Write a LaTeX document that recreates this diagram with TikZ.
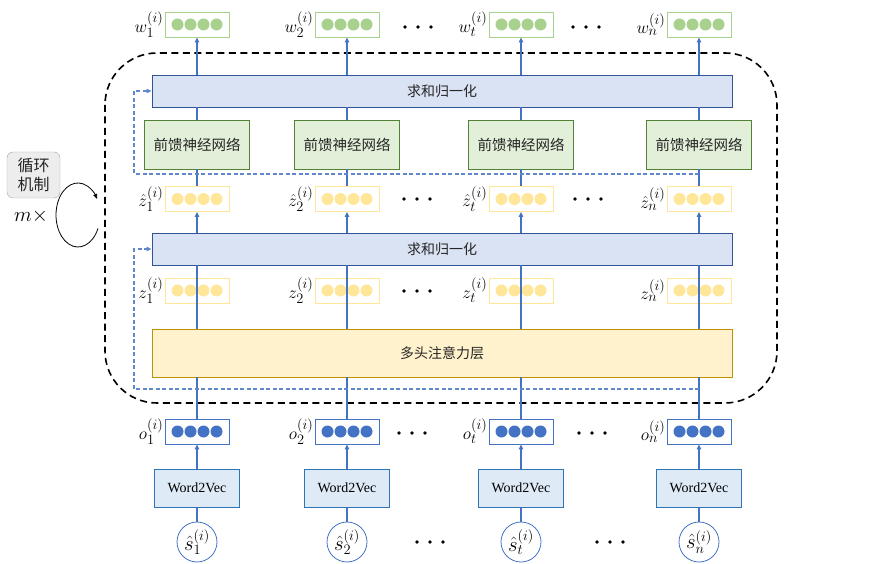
\documentclass[tikz,border=0pt]{standalone}
\usepackage{fontspec}
\setmainfont{Liberation Serif}
\newfontfamily\cjk{Noto Sans CJK SC}
\usetikzlibrary{arrows.meta,calc}
\definecolor{lineblue}{HTML}{4472C4}
\definecolor{sumfill}{HTML}{DAE3F3}
\definecolor{sumdraw}{HTML}{2F5597}
\definecolor{ffnfill}{HTML}{E2F0D9}
\definecolor{ffndraw}{HTML}{548235}
\definecolor{mhafill}{HTML}{FFF2CC}
\definecolor{mhadraw}{HTML}{BF9000}
\definecolor{wvfill}{HTML}{DEEBF7}
\definecolor{wvdraw}{HTML}{2E75B6}
\definecolor{wgreen}{HTML}{A9D18E}
\definecolor{zyellow}{HTML}{FFE699}
\definecolor{loopfill}{HTML}{EDEDED}
\definecolor{loopdraw}{HTML}{A6A6A6}
\definecolor{txt}{HTML}{262626}
\tikzset{
  vecbox/.style={draw=#1, line width=0.9pt, fill=white, minimum width=64pt, minimum height=25pt, inner sep=0pt},
  widebox/.style={draw=#1, line width=0.9pt, minimum width=580pt, inner sep=0pt, font=\cjk\fontsize{14}{16}\selectfont, text=txt},
  ffnbox/.style={draw=ffndraw, fill=ffnfill, line width=0.9pt, minimum width=105pt, minimum height=49pt, inner sep=0pt, font=\cjk\fontsize{14.5}{16}\selectfont, text=txt},
  wvbox/.style={draw=wvdraw, fill=wvfill, line width=0.9pt, minimum width=85pt, minimum height=38pt, inner sep=0pt, font=\fontsize{14}{16}\selectfont},
  inbox/.style={draw=lineblue, line width=0.8pt, circle, minimum size=40pt, inner sep=0pt, font=\fontsize{20}{22}\selectfont},
  veclabel/.style={anchor=east, inner sep=1pt, font=\fontsize{19}{22}\selectfont},
  link/.style={draw=lineblue, line width=1.3pt},
  arr/.style={link, -{Triangle[length=5pt,width=4.5pt]}},
  res/.style={draw=lineblue!85, line width=1.3pt, dash pattern=on 4pt off 2.5pt},
  resarr/.style={res, -{Triangle[length=5pt,width=4.5pt]}}
}
\newcommand{\fourdots}[2]{% node, colour
  \foreach \dx in {-19.5,-6.5,6.5,19.5}{\fill[#2] ($(#1.center)+(\dx pt,0)$) circle (6pt);}}
\newcommand{\threedots}[2]{% x, y
  \foreach \dx in {-13,0,13}{\fill[black] (#1+\dx,#2) circle (1.9pt);}}
\begin{document}
\begin{tikzpicture}[x=1pt,y=-1pt]
\useasboundingbox (0,0) rectangle (876,564);
% recurrent frame
\draw[black, line width=1.6pt, dash pattern=on 7pt off 4.5pt, rounded corners=52pt] (105,53) rectangle (777,403);
% wide boxes
\node[widebox=sumdraw, fill=sumfill, minimum height=32pt] (sum2) at (442,91) {求和归一化};
\node[widebox=sumdraw, fill=sumfill, minimum height=32pt] (sum1) at (442,249) {求和归一化};
\node[widebox=mhadraw, fill=mhafill, minimum height=48pt] (mha) at (442,353) {多头注意力层};
% columns
\foreach \i/\cx/\sub in {1/197/1, 2/347/2, 3/521/t, 4/699/n}{
  \node[vecbox=wgreen] (w\i) at (\cx,24.5) {};
  \fourdots{w\i}{wgreen}
  \node[veclabel] at (w\i.west) {$w_{\sub}^{(i)}$};
  \node[ffnbox] (f\i) at (\cx,144.5) {前馈神经网络};
  \node[vecbox=zyellow] (zh\i) at (\cx,199) {};
  \fourdots{zh\i}{zyellow}
  \node[veclabel] at (zh\i.west) {$\hat{z}_{\sub}^{(i)}$};
  \node[vecbox=zyellow] (z\i) at (\cx,290.5) {};
  \fourdots{z\i}{zyellow}
  \node[veclabel] at (z\i.west) {$z_{\sub}^{(i)}$};
  \node[vecbox=lineblue] (o\i) at (\cx,431.5) {};
  \fourdots{o\i}{lineblue}
  \node[veclabel] at (o\i.west) {$o_{\sub}^{(i)}$};
  \node[wvbox] (v\i) at (\cx,488) {Word2Vec};
  \node[inbox] (s\i) at (\cx,542) {$\hat{s}_{\sub}^{(i)}$};
  % links
  \draw[arr] (sum2.north -| w\i.south) -- (w\i.south);
  \draw[link] (f\i.north) -- (sum2.south -| f\i.north);
  \draw[link] (zh\i.north) -- (f\i.south);
  \draw[arr] (sum1.north -| zh\i.south) -- (zh\i.south);
  \draw[link] (z\i.south) -- (sum1.south -| z\i.south);
  \draw[link] (mha.north -| z\i.south) -- (z\i.south);
  \draw[link] (o\i.north) -- (mha.south -| o\i.north);
  \draw[arr] (v\i.north) -- (o\i.south);
  \draw[link] (s\i.north) -- (v\i.south);
}
% residual connections
\coordinate (r2) at (699,174);
\coordinate (rl2) at (134,174);
\draw[resarr] (r2) -- (rl2) |- (sum2.west);
\coordinate (r1) at (699,389);
\coordinate (rl1) at (134,389);
\draw[resarr] (r1) -- (rl1) |- (sum1.west);
% ellipsis dots
\threedots{418}{27}
\threedots{586}{27}
\threedots{417}{199}
\threedots{588}{199}
\threedots{417}{291}
\threedots{412}{433}
\threedots{592}{433}
\threedots{430}{542}
\threedots{610}{542}
% loop mechanism
\node[draw=loopdraw, fill=loopfill, rounded corners=6pt, minimum width=53pt, minimum height=46pt, inner sep=0pt, align=center, font=\cjk\fontsize{16}{19}\selectfont, text=txt] (loop) at (33.5,175) {循环\\机制};
\node[font=\fontsize{21}{23}\selectfont] (mx) at (31,216) {$m\times$};
\draw[black, line width=0.8pt, -{Triangle[length=5pt,width=4pt]}] (78,215) ++(25:22 and 32) arc[start angle=25, end angle=330, x radius=22, y radius=32];
\end{tikzpicture}
\end{document}
